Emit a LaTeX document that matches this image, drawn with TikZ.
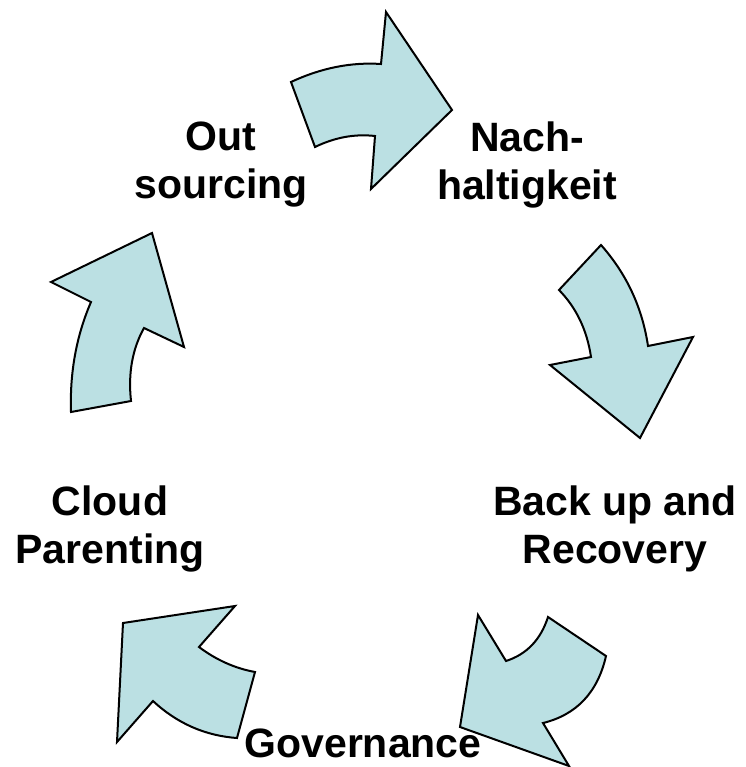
\documentclass[tikz,border=0pt]{standalone}
\usepackage{fontspec}
\setmainfont{Liberation Sans}
\definecolor{arrowblue}{RGB}{187,224,227}
\begin{document}
\begin{tikzpicture}[x=1pt,y=-1pt,
    blockarrow/.style={fill=arrowblue, draw=black, line width=2pt, line join=miter},
    cyclelabel/.style={font=\bfseries\fontsize{41}{48}\selectfont, align=center, inner sep=0pt}]
                \useasboundingbox (0,0) rectangle (745,767);
                % curved block arrows, clockwise from the top
                \filldraw[blockarrow] (291,82) .. controls (321,68) and (351,62) .. (381,64) -- (386,12) -- (452,110) -- (371,189) -- (375,136) .. controls (355,133.7) and (335,137.3) .. (315,147) -- cycle;
                \filldraw[blockarrow] (559,290) -- (601,245) .. controls (626.7,274) and (642.3,307.7) .. (648,346) -- (693,337) -- (640,438) -- (550,365) -- (591,357) .. controls (587,330) and (576.3,307.7) .. (559,290) -- cycle;
                \filldraw[blockarrow] (460,727) -- (478,615) -- (506,661) .. controls (526.7,654.3) and (540.7,639.7) .. (548,617) -- (606,656) .. controls (597.7,692.3) and (576.7,714.7) .. (543,723) -- (569,766) -- cycle;
                \filldraw[blockarrow] (123,623) -- (235,606) -- (199,647) .. controls (216.3,660) and (235,668.3) .. (255,672) -- (237,738) .. controls (205,735.7) and (177,723.3) .. (153,701) -- (117,742) -- cycle;
                \filldraw[blockarrow] (152,233) -- (184,347) -- (144,328) .. controls (132.3,349) and (128,373.3) .. (131,401) -- (71,412) .. controls (69.7,372.7) and (76.3,336) .. (91,302) -- (51,282) -- cycle;

                % labels
                \node[cyclelabel] (outsourcing) at (221,165) {Out\\sourcing};
                \node[cyclelabel] (nachhaltigkeit) at (527,165) {Nach-\\haltigkeit};
                \node[cyclelabel] (backup) at (615,529) {Back up and\\Recovery};
                \node[cyclelabel, anchor=base] (governance) at (363,757) {Governance};
                \node[cyclelabel] (cloudparenting) at (110,529) {Cloud\\Parenting};
            \end{tikzpicture}
\end{document}
